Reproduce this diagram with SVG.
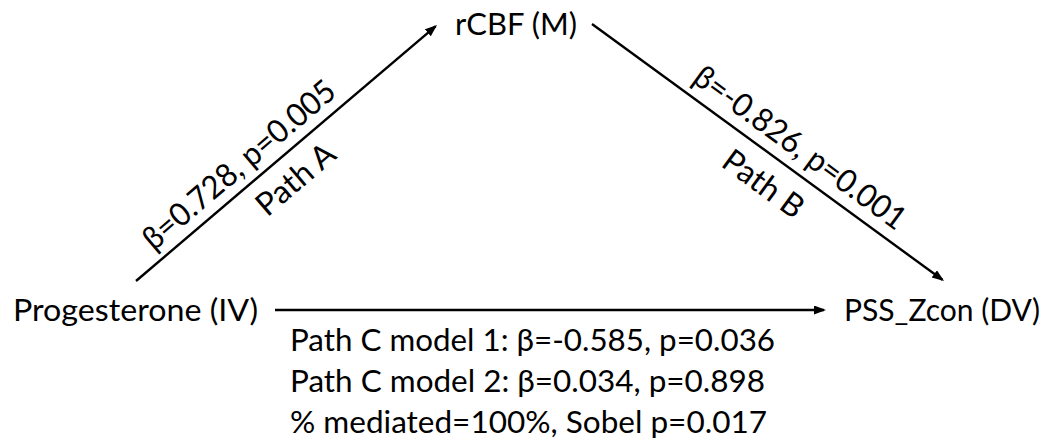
<svg xmlns="http://www.w3.org/2000/svg" width="1046" height="443" viewBox="0 0 1046 443">
<style>
text{font-family:Lato,"Open Sans","Liberation Sans",sans-serif;font-size:31px;fill:#000}
.dg{font-size:32px}
.ln{stroke:#000;stroke-width:2.4;fill:none}
</style>
<defs>
<marker id="ah" markerUnits="userSpaceOnUse" markerWidth="14" markerHeight="10" refX="10" refY="4.5" orient="auto">
<path d="M0,0 L12,4.5 L0,9 z" fill="#000"/>
</marker>
</defs>
<rect width="1046" height="443" fill="#fff"/>
<g id="connectors">
<line class="ln" x1="136" y1="281" x2="435.5" y2="26.3" marker-end="url(#ah)"/>
<line class="ln" x1="592" y1="24" x2="942.4" y2="279.8" marker-end="url(#ah)"/>
<line class="ln" x1="275" y1="310" x2="824" y2="310" marker-end="url(#ah)"/>
<text class="dg" transform="translate(253.1,181.4) rotate(-40.38)" y="-11" text-anchor="middle" textLength="242" lengthAdjust="spacingAndGlyphs">β=0.728, p=0.005</text>
<text class="dg" transform="translate(278.7,159.4) rotate(-40.38)" y="37" text-anchor="middle" textLength="93" lengthAdjust="spacingAndGlyphs">Path A</text>
<text class="dg" transform="translate(786.5,166) rotate(36.13)" y="-12" text-anchor="middle" textLength="254" lengthAdjust="spacingAndGlyphs">β=-0.826, p=0.001</text>
<text class="dg" transform="translate(779.9,161.2) rotate(36.13)" y="39" text-anchor="middle" textLength="92" lengthAdjust="spacingAndGlyphs">Path B</text>
</g>
<g id="node-m"><text x="455" y="35" textLength="122" lengthAdjust="spacingAndGlyphs">rCBF (M)</text></g>
<g id="node-iv"><text x="13" y="321" textLength="245" lengthAdjust="spacingAndGlyphs">Progesterone (IV)</text></g>
<g id="node-dv"><text x="844" y="321" textLength="196" lengthAdjust="spacingAndGlyphs">PSS_Zcon (DV)</text></g>
<g id="stats">
<text x="290" y="351" textLength="485" lengthAdjust="spacingAndGlyphs">Path C model 1: β=-0.585, p=0.036</text>
<text x="290" y="392" textLength="475" lengthAdjust="spacingAndGlyphs">Path C model 2: β=0.034, p=0.898</text>
<text x="290" y="433" textLength="477" lengthAdjust="spacingAndGlyphs">% mediated=100%, Sobel p=0.017</text>
</g>
</svg>
